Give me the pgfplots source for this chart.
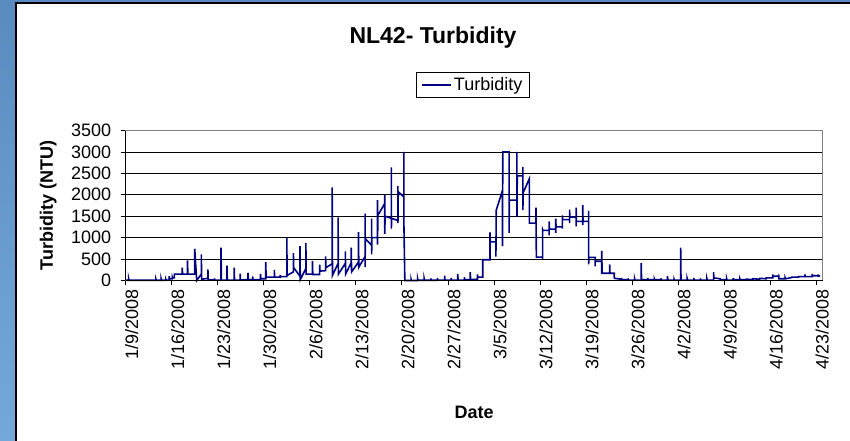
\documentclass[border=0pt]{standalone}
\usepackage{pgfplots}
\pgfplotsset{compat=1.18}
\usepackage{pgfplotstable}
\usepackage{fontspec}
\setmainfont{Liberation Sans}
\definecolor{bgtop}{HTML}{5A8BC0}
\definecolor{bgbot}{HTML}{74A8DA}
\definecolor{navyline}{HTML}{000080}
\definecolor{framegray}{HTML}{808080}

\pgfplotstableread{
d v
0 5
0.45 5
0.45 40
0.5 5
4.6 5
4.6 30
4.65 5
5.4 5
5.4 35
5.45 5
6.1 5
6.1 30
6.15 10
6.6 10
6.6 100
6.65 40
7.1 40
7.1 80
7.15 60
7.4 60
7.4 150
8.6 150
8.6 300
8.65 150
9.4 150
9.4 470
9.45 150
10.5 150
10.5 740
10.55 600
10.8 0
11.5 150
11.5 610
11.55 30
12.5 50
12.5 260
12.55 20
13.5 10
13.5 50
13.55 10
14.5 10
14.5 765
14.55 10
15.4 10
15.4 345
15.45 10
16.5 10
16.5 300
16.55 10
17.4 10
17.4 160
17.45 10
18.6 20
18.6 180
18.65 20
19.3 20
19.3 95
19.35 20
20.5 20
20.5 156
20.55 40
21.3 40
21.3 430
21.35 80
22.6 80
22.6 250
22.65 80
23.5 80
23.5 130
23.55 90
24.5 90
24.5 990
24.55 120
25.5 200
25.5 640
25.55 300
26.5 100
26.5 800
26.55 20
27.4 280
27.4 875
27.45 150
28.4 150
28.4 450
28.45 140
29.5 140
29.5 370
29.55 220
30.4 230
30.4 560
30.45 300
31.4 390
31.4 2170
31.45 120
32.3 400
32.3 1470
32.35 150
33.4 400
33.4 680
33.45 150
34.3 420
34.3 765
34.35 200
35.4 430
35.4 1130
35.45 310
36.4 560
36.4 1560
36.4 310
36.45 975
37.4 820
37.4 1445
37.4 610
37.45 1000
38.3 1000
38.3 1875
38.3 840
38.35 1520
39.4 1800
39.4 1990
39.4 1090
39.45 1500
40.4 1450
40.4 2640
40.4 1210
40.45 1450
41.4 1400
41.4 2200
41.4 1340
41.45 2070
42.3 1950
42.3 3000
42.3 1400
42.45 0
43.4 0
43.4 30
43.45 0
44.4 0
44.4 40
44.45 5
45.4 5
45.4 40
45.45 5
46.4 5
46.4 50
46.45 5
47.4 5
47.4 60
47.45 10
48.5 10
48.5 115
48.55 10
49.5 10
49.5 60
49.55 10
50.5 10
50.5 155
50.55 10
51.5 10
51.5 80
51.55 20
52.4 20
52.4 195
52.45 20
53.5 30
53.5 140
53.55 80
54.3 80
54.3 485
55.4 485
55.4 1120
55.45 900
56.3 900
56.3 560
56.35 1640
57.3 2100
57.3 800
57.35 3000
58.3 3000
58.3 1110
58.35 1875
59.5 1875
59.5 3000
59.5 1480
59.55 2440
60.4 2440
60.4 2650
60.4 1640
60.45 2050
61.4 2380
61.4 1340
62.4 1340
62.4 1700
62.45 547
63.4 547
63.4 500
63.4 1190
63.45 1170
64.4 1170
64.4 1050
64.4 1380
64.45 1200
65.4 1200
65.4 1110
65.4 1445
65.45 1250
66.4 1250
66.4 1210
66.4 1520
66.45 1420
67.5 1420
67.5 1340
67.5 1655
67.55 1480
68.5 1480
68.5 1265
68.5 1700
68.55 1380
69.5 1380
69.5 1290
69.5 1760
69.55 1380
70.4 1380
70.4 1625
70.4 375
70.45 540
71.4 540
71.4 330
71.4 550
71.45 450
72.4 450
72.4 156
72.4 690
72.45 170
73.6 170
73.6 375
73.65 170
74.3 170
74.3 80
74.35 50
75.4 30
75.4 60
75.45 20
76.4 20
76.4 50
76.45 10
77.4 10
77.4 40
77.45 10
78.4 10
78.4 405
78.45 20
79.4 20
79.4 60
79.45 20
80.4 20
80.4 40
80.45 20
81.4 20
81.4 50
81.45 10
82.4 10
82.4 100
82.45 10
83.4 10
83.4 30
83.45 10
84.4 10
84.4 765
84.45 10
85.4 10
85.4 40
85.45 10
86.4 10
86.4 60
86.45 10
87.4 10
87.4 50
87.45 10
88.4 10
88.4 40
88.45 10
89.4 10
89.4 195
89.45 60
90.4 40
90.4 20
91.4 20
91.4 40
91.45 10
92.4 10
92.4 60
92.45 20
93.4 20
93.4 40
93.45 20
94.4 20
94.4 30
95.4 20
95.4 40
96.4 30
96.4 50
97.4 40
97.4 60
98.4 60
98.4 140
98.45 100
99.3 100
99.3 140
99.35 40
100.3 40
100.3 60
100.35 40
101.3 70
101.3 80
102.3 80
102.3 90
103.3 90
103.3 140
103.35 90
104.4 90
104.4 150
104.45 110
105.3 110
105.3 140
105.35 100
105.6 110
}\turbdata

\begin{document}
\begin{tikzpicture}
\useasboundingbox (0pt,0pt) rectangle (850pt,441pt);
\shade[top color=bgtop, bottom color=bgbot] (0pt,0pt) rectangle (850pt,441pt);
\fill[white] (16pt,-5pt) rectangle (856pt,438pt);
\draw[black, line width=1.6pt] (16pt,-5pt) -- (16pt,438pt) -- (856pt,438pt);

\node[font=\fontsize{23}{26}\selectfont\bfseries] at (433pt,403pt) {NL42- Turbidity};

\begin{axis}[
  at={(125.7pt,160.5pt)}, anchor=south west,
  scale only axis, width=697pt, height=150pt,
  xmin=0, xmax=106, ymin=0, ymax=3500,
  xtick={0,7,...,105},
  xticklabels={1/9/2008,1/16/2008,1/23/2008,1/30/2008,2/6/2008,2/13/2008,2/20/2008,2/27/2008,3/5/2008,3/12/2008,3/19/2008,3/26/2008,4/2/2008,4/9/2008,4/16/2008,4/23/2008},
  ytick={0,500,...,3500},
  tick align=outside, major tick length=5pt,
  xtick pos=bottom, ytick pos=left,
  tick style={black, line width=0.8pt},
  ymajorgrids, grid style={black, line width=0.8pt},
  axis line style={framegray, line width=1pt},
  /pgf/number format/assume math mode=true,
  /pgf/number format/1000 sep={},
  ticklabel style={font=\fontsize{18}{20}\selectfont},
  xticklabel style={rotate=90, anchor=east, yshift=-6pt},
  yticklabel style={anchor=east, xshift=-6pt},
  xlabel={Date}, ylabel={Turbidity (NTU)},
  label style={font=\fontsize{18}{20}\selectfont\bfseries},
  xlabel style={at={(axis description cs:0.5,-0.877)}, anchor=center},
  ylabel style={at={(axis description cs:-0.111,0.5)}, anchor=center, rotate=0},
  legend style={at={(0.498,1.305)}, anchor=center, draw=black, line width=0.8pt,
    font=\fontsize{18}{20}\selectfont, inner xsep=5pt, inner ysep=3pt},
  legend image code/.code={\draw[#1] (0pt,0pt) -- (29pt,0pt);},
  clip=false,
]
\addplot[navyline, line width=1.6pt, line join=miter, mark=none] table[x=d, y=v] {\turbdata};
\addlegendentry{Turbidity}
\draw[black, line width=1pt] (axis cs:0,0) -- (axis cs:0,3500);
\draw[black, line width=1pt] (axis cs:0,0) -- (axis cs:106,0);
\end{axis}
\end{tikzpicture}
\end{document}
